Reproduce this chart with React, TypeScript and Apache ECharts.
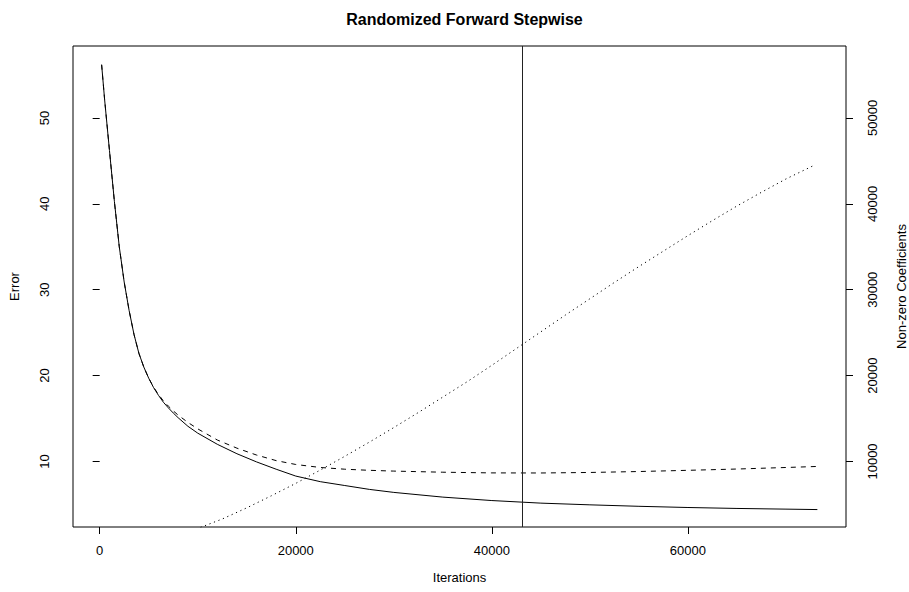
import React, { useEffect, useRef } from "react";
import * as echarts from "echarts";

const errIterations = [200, 500, 1000, 1500, 2000, 2500, 3000, 3500, 4000, 4500, 5000, 5500, 6000, 6500, 7000, 7500, 8000, 9000, 10000, 12000, 14000, 16000, 18000, 20000, 22500, 25000, 27500, 30000, 35000, 40000, 45000, 50000, 55000, 60000, 65000, 70000, 73200];
const trainError = [56.2, 52.2, 46.2, 40.3, 35.0, 30.9, 27.6, 24.8, 22.6, 21.0, 19.7, 18.6, 17.7, 16.9, 16.25, 15.65, 15.1, 14.1, 13.3, 12.0, 10.9, 9.95, 9.1, 8.3, 7.65, 7.2, 6.75, 6.4, 5.85, 5.45, 5.15, 4.95, 4.78, 4.64, 4.53, 4.45, 4.4];
const testError = [56.2, 52.2, 46.2, 40.3, 35.0, 30.9, 27.6, 24.8, 22.6, 21.0, 19.7, 18.65, 17.8, 17.05, 16.45, 15.9, 15.4, 14.55, 13.8, 12.5, 11.55, 10.75, 10.1, 9.65, 9.3, 9.1, 8.97, 8.88, 8.75, 8.67, 8.66, 8.72, 8.83, 8.97, 9.12, 9.3, 9.42];

const coefIterations = [200, 2500, 5000, 7500, 10000, 12500, 15000, 17500, 20000, 22500, 25000, 27500, 30000, 32500, 35000, 37500, 40000, 42500, 45000, 47500, 50000, 52500, 55000, 57500, 60000, 62500, 65000, 67500, 70000, 72800];
const nonZeroCoefs = [150, 400, 900, 1500, 2200, 3300, 4600, 6000, 7450, 9000, 10600, 12250, 13950, 15700, 17500, 19300, 21200, 23150, 25100, 27050, 28950, 30850, 32700, 34500, 36300, 38050, 39750, 41350, 42900, 44450];

const selectedIteration = 43150;

const xTicks = [0, 20000, 40000, 60000];
const errorTicks = [10, 20, 30, 40, 50];
const coefTicks = [10000, 20000, 30000, 40000, 50000];

const FONT = "Liberation Sans, Arial, Helvetica, sans-serif";

export default function App() {
  const ref = useRef<HTMLDivElement>(null);
  useEffect(() => {
    document.body.style.margin = "0";
    const chart = echarts.init(ref.current!, null, { renderer: "svg" });
    const axisText = { color: "#000", fontFamily: FONT, fontSize: 13 };
    chart.setOption({
      animation: false,
      backgroundColor: "#fff",
      title: {
        text: "Randomized Forward Stepwise",
        left: 459.5,
        top: 6,
        textAlign: "center",
        textStyle: { fontFamily: FONT, fontSize: 16, fontWeight: "bold", color: "#000" },
      },
      grid: {
        left: 73,
        top: 46,
        width: 773,
        height: 481,
        containLabel: false,
        outerBoundsMode: "none",
        show: true,
        borderColor: "#000",
        borderWidth: 1,
        backgroundColor: "transparent",
      },
      xAxis: {
        type: "value",
        min: -2720,
        max: 76120,
        name: "Iterations",
        nameLocation: "middle",
        nameGap: 44,
        nameTextStyle: axisText,
        axisLine: { show: false },
        axisTick: { show: true, inside: false, length: 7, lineStyle: { color: "#000" }, customValues: xTicks },
        axisLabel: { ...axisText, margin: 17, customValues: xTicks, formatter: (v: number) => String(v) },
        splitLine: { show: false },
      },
      yAxis: [
        {
          type: "value",
          position: "left",
          min: 2.37,
          max: 58.38,
          name: "Error",
          nameLocation: "middle",
          nameGap: 52,
          nameTextStyle: axisText,
          axisLine: { show: false },
          axisTick: { show: true, inside: false, length: 7, lineStyle: { color: "#000" }, customValues: errorTicks },
          axisLabel: { ...axisText, rotate: 90, margin: 22, customValues: errorTicks, formatter: (v: number) => String(v) },
          splitLine: { show: false },
        },
        {
          type: "value",
          position: "right",
          min: 2370,
          max: 58380,
          name: "Non-zero Coefficients",
          nameLocation: "middle",
          nameGap: 49,
          nameTextStyle: axisText,
          axisLine: { show: false },
          axisTick: { show: true, inside: false, length: 7, lineStyle: { color: "#000" }, customValues: coefTicks },
          axisLabel: { ...axisText, rotate: 90, margin: 20, customValues: coefTicks, formatter: (v: number) => String(v) },
          splitLine: { show: false },
        },
      ],
      series: [
        {
          type: "line",
          name: "Training error",
          xAxisIndex: 0,
          yAxisIndex: 0,
          data: errIterations.map((x, i) => [x, trainError[i]]),
          showSymbol: false,
          symbol: "none",
          clip: true,
          lineStyle: { color: "#000", width: 1, type: "solid" },
          markLine: {
            silent: true,
            symbol: ["none", "none"],
            label: { show: false },
            lineStyle: { color: "#222", width: 1, type: "solid" },
            data: [{ xAxis: selectedIteration }],
          },
        },
        {
          type: "line",
          name: "Test error",
          xAxisIndex: 0,
          yAxisIndex: 0,
          data: errIterations.map((x, i) => [x, testError[i]]),
          showSymbol: false,
          symbol: "none",
          clip: true,
          lineStyle: { color: "#000", width: 1, type: [5, 5] },
        },
        {
          type: "line",
          name: "Non-zero coefficients",
          xAxisIndex: 0,
          yAxisIndex: 1,
          data: coefIterations.map((x, i) => [x, nonZeroCoefs[i]]),
          showSymbol: false,
          symbol: "none",
          clip: true,
          lineStyle: { color: "#000", width: 1, type: [1.2, 3.6] },
        },
      ],
    });
    return () => chart.dispose();
  }, []);
  return <div ref={ref} style={{ position: "fixed", left: 0, top: 0, width: 909, height: 592 }} />;
}
